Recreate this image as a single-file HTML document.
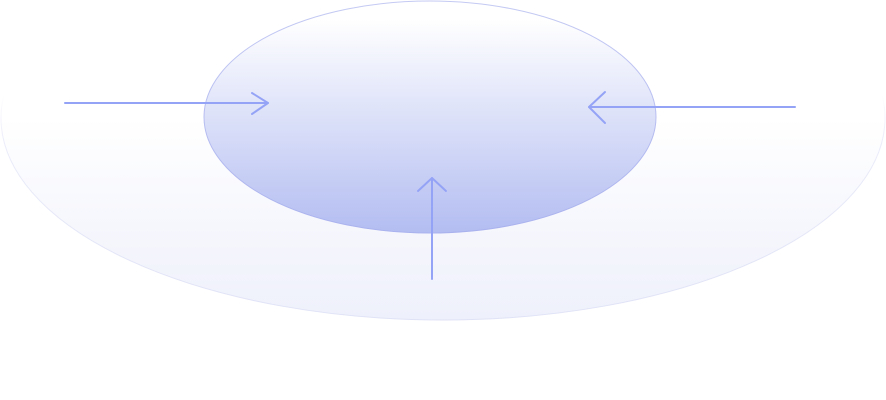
<!DOCTYPE html>
<html>
<head>
<meta charset="utf-8">
<style>
html,body{margin:0;padding:0;background:#fff;width:886px;height:400px;overflow:hidden;}
svg{display:block;}
</style>
</head>
<body>
<svg width="886" height="400" viewBox="0 0 886 400">
  <defs>
    <linearGradient id="outerGrad" gradientUnits="userSpaceOnUse" x1="0" y1="-84" x2="0" y2="320">
      <stop offset="0.5" stop-color="#ffffff"/>
      <stop offset="1" stop-color="#eef0fb"/>
    </linearGradient>
    <linearGradient id="outerStroke" gradientUnits="userSpaceOnUse" x1="0" y1="-84" x2="0" y2="320">
      <stop offset="0.44" stop-color="#e3e5f7" stop-opacity="0"/>
      <stop offset="0.55" stop-color="#e3e5f7" stop-opacity="0.7"/>
      <stop offset="1" stop-color="#dfe2f6"/>
    </linearGradient>
    <linearGradient id="innerGrad" x1="0" y1="0" x2="0" y2="1">
      <stop offset="0.08" stop-color="#ffffff"/>
      <stop offset="1" stop-color="#b3bdf1"/>
    </linearGradient>
    <linearGradient id="innerStroke" x1="0" y1="0" x2="0" y2="1">
      <stop offset="0" stop-color="#c4caf3"/>
      <stop offset="1" stop-color="#aab2ee"/>
    </linearGradient>
  </defs>
  <ellipse cx="443" cy="118" rx="442" ry="202" fill="url(#outerGrad)" stroke="url(#outerStroke)" stroke-width="1"/>
  <ellipse cx="430" cy="117" rx="226" ry="116" fill="url(#innerGrad)" stroke="url(#innerStroke)" stroke-width="1"/>
  <g fill="none" stroke="#95a3f6" stroke-width="2" stroke-linecap="round" stroke-linejoin="round">
    <g>
      <line x1="65" y1="103" x2="268" y2="103"/>
      <polyline points="252,93 268,103 252,114"/>
    </g>
    <g>
      <line x1="795" y1="107" x2="589" y2="107"/>
      <polyline points="605,92 589,107 605,123"/>
    </g>
    <g>
      <line x1="432" y1="279" x2="432" y2="178"/>
      <polyline points="418,191 432,178 446,191"/>
    </g>
  </g>
</svg>
</body>
</html>
